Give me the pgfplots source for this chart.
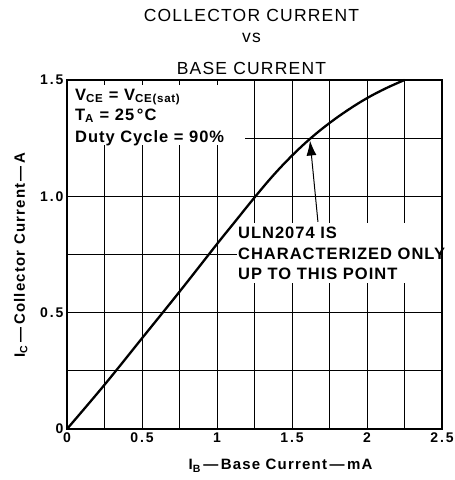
\documentclass[border=0pt]{standalone}
\usepackage{pgfplots}
\pgfplotsset{compat=1.18}
\usepackage{fontspec}
\setmainfont{Liberation Sans}
\newfontfamily\titlefont[LetterSpace=7]{Liberation Sans}
\newfontfamily\annfont[LetterSpace=6]{Liberation Sans}
\newfontfamily\tickfont[LetterSpace=14]{Liberation Sans}
\newfontfamily\labfont[LetterSpace=8]{Liberation Sans}
\usetikzlibrary{arrows.meta}
\begin{document}
\begin{tikzpicture}
\useasboundingbox (-67pt,-51pt) rectangle (388pt,429pt);
\begin{axis}[name=ax, at={(0pt,0pt)}, anchor=south west, scale only axis,
 width=375pt, height=349pt,
 xmin=0, xmax=2.5, ymin=0, ymax=1.5,
 xtick={0,0.5,1,1.5,2,2.5}, xticklabels={0,0.5,1,1.5,2,2.5},
 ytick={0,0.5,1,1.5}, yticklabels={0,0.5,1.0,1.5},
 minor xtick={0.25,0.75,1.25,1.75,2.25}, minor ytick={0.25,0.75,1.25},
 grid=both,
 major grid style={black, line width=1pt},
 minor grid style={black, line width=1pt},
 major tick length=0pt, minor tick length=0pt,
 axis line style={line width=1.2pt},
 tick label style={font=\tickfont\bfseries\fontsize{14}{14}\selectfont},
 /pgf/number format/assume math mode=true,
 clip=false,
]
\fill[white] (axis cs:0.006,1.478) rectangle (axis cs:1.187,1.22);
\fill[white] (axis cs:1.13,0.885) rectangle (axis cs:2.485,0.627);
\addplot[black, line width=2.3pt, smooth, tension=0.6] coordinates {
(0,0) (0.25,0.19) (0.5,0.39) (0.75,0.59) (1.0,0.795) (1.125,0.895) (1.25,0.995)
(1.375,1.09) (1.5,1.175) (1.625,1.25) (1.75,1.315) (1.875,1.372) (2.0,1.422)
(2.125,1.464) (2.25,1.5)};
\node[anchor=base west, inner sep=0pt, font=\annfont\bfseries\fontsize{16.5}{16.5}\selectfont] at (axis cs:0.053,1.414) {V\textsubscript{CE} = V\textsubscript{CE(sat)}};
\node[anchor=base west, inner sep=0pt, font=\annfont\bfseries\fontsize{16.5}{16.5}\selectfont] at (axis cs:0.053,1.328) {T\textsubscript{A} = 25\,°C};
\node[anchor=base west, inner sep=0pt, font=\annfont\bfseries\fontsize{16.5}{16.5}\selectfont] at (axis cs:0.053,1.233) {Duty Cycle = 90\%};
\node[anchor=base west, inner sep=0pt, font=\annfont\bfseries\fontsize{16.5}{16.5}\selectfont] at (axis cs:1.14,0.8195) {ULN2074 IS};
\node[anchor=base west, inner sep=0pt, font=\annfont\bfseries\fontsize{16.5}{16.5}\selectfont] at (axis cs:1.14,0.7306) {CHARACTERIZED ONLY};
\node[anchor=base west, inner sep=0pt, font=\annfont\bfseries\fontsize{16.5}{16.5}\selectfont] at (axis cs:1.14,0.6417) {UP TO THIS POINT};
\draw[line width=1pt, -{Latex[length=15pt,width=10pt]}] (axis cs:1.673,0.89) -- (axis cs:1.62,1.24);
\end{axis}
\node[anchor=base, inner sep=0pt, font=\titlefont\fontsize{17.5}{17.5}\selectfont] at (184.5pt,407pt) {COLLECTOR CURRENT};
\node[anchor=base, inner sep=0pt, font=\titlefont\fontsize{17.5}{17.5}\selectfont] at (184.5pt,386pt) {vs};
\node[anchor=base, inner sep=0pt, font=\titlefont\fontsize{17.5}{17.5}\selectfont] at (184.5pt,354pt) {BASE CURRENT};
\node[anchor=base, inner sep=0pt, font=\labfont\bfseries\fontsize{15}{15}\selectfont] at (213.5pt,-41pt) {I\textsubscript{B}\,—\,Base Current\,—\,mA};
\node[anchor=base, inner sep=0pt, rotate=90, font=\labfont\bfseries\fontsize{15}{15}\selectfont] at (-42pt,174pt) {I\textsubscript{C}\,—\,Collector Current\,—\,A};
\end{tikzpicture}
\end{document}
